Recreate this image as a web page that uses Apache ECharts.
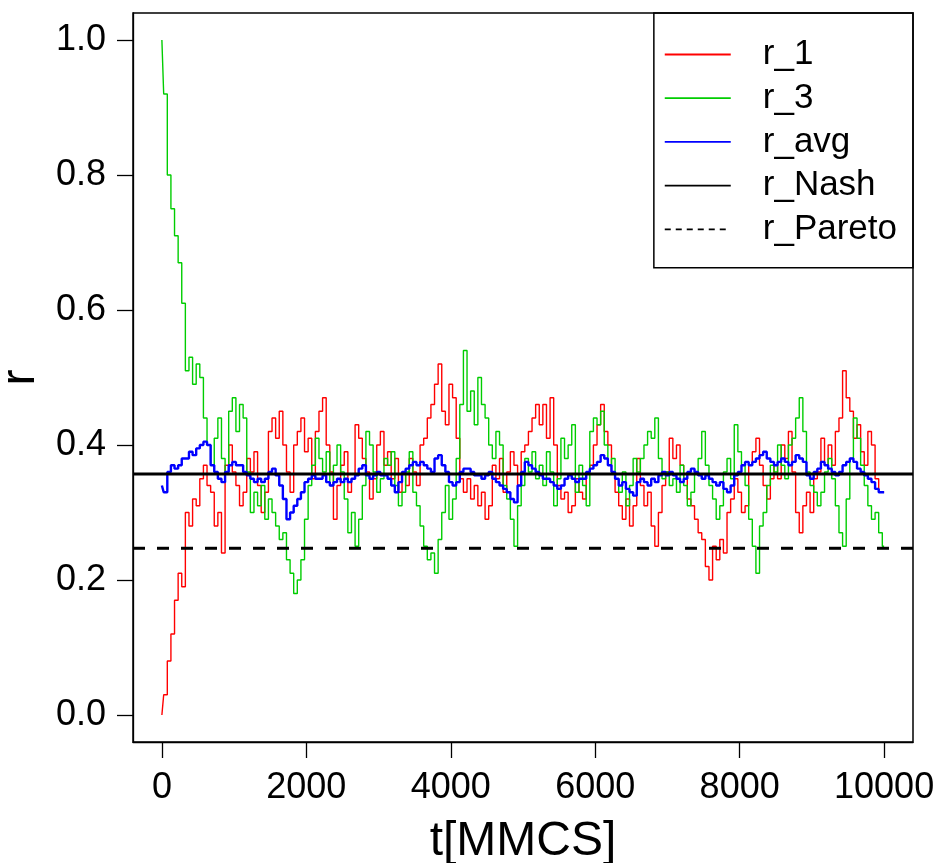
<!DOCTYPE html>
<html>
<head>
<meta charset="utf-8">
<script src="https://cdn.jsdelivr.net/npm/echarts@6/dist/echarts.min.js"></script>
<style>
html,body{margin:0;padding:0;background:#fff;}
#chart{width:938px;height:863px;}
</style>
</head>
<body>
<div id="chart"></div>
<script>
// sampling interval of the readings (MMCS)
const T_STEP = 50;

const r1 = [
0.00,0.03,0.08,0.12,0.17,0.21,0.19,0.30,0.28,0.32,0.31,0.35,0.37,0.34,0.33,0.28,0.30,0.24,0.37,0.40,
0.36,0.34,0.31,0.33,0.38,0.36,0.39,0.34,0.30,0.33,0.42,0.44,0.41,0.45,0.40,0.36,0.33,0.40,0.42,0.44,
0.39,0.41,0.35,0.42,0.45,0.47,0.40,0.36,0.29,0.34,0.37,0.39,0.33,0.35,0.43,0.41,0.38,0.36,0.32,0.35,
0.40,0.42,0.37,0.39,0.35,0.38,0.33,0.36,0.34,0.38,0.36,0.34,0.40,0.41,0.44,0.46,0.49,0.52,0.45,0.43,
0.49,0.47,0.41,0.35,0.33,0.35,0.32,0.34,0.31,0.33,0.29,0.31,0.37,0.35,0.38,0.33,0.36,0.39,0.37,0.34,
0.39,0.40,0.42,0.44,0.46,0.43,0.46,0.41,0.47,0.40,0.34,0.32,0.33,0.30,0.31,0.35,0.33,0.32,0.36,0.37,
0.40,0.43,0.46,0.42,0.40,0.36,0.33,0.31,0.29,0.32,0.28,0.31,0.38,0.34,0.31,0.33,0.28,0.25,0.30,0.34,
0.36,0.41,0.38,0.40,0.37,0.35,0.32,0.31,0.29,0.27,0.26,0.22,0.20,0.25,0.23,0.26,0.24,0.30,0.32,0.35,
0.33,0.30,0.31,0.37,0.39,0.41,0.37,0.34,0.32,0.35,0.37,0.35,0.40,0.38,0.42,0.36,0.30,0.27,0.31,0.33,
0.30,0.35,0.36,0.41,0.37,0.40,0.37,0.42,0.44,0.51,0.47,0.45,0.41,0.43,0.39,0.37,0.42,0.40,0.35,0.33,
0.33
];

const r3 = [
1.00,0.92,0.80,0.75,0.71,0.67,0.61,0.51,0.53,0.49,0.52,0.50,0.44,0.40,0.37,0.41,0.44,0.38,0.36,0.45,
0.47,0.42,0.46,0.44,0.36,0.30,0.33,0.31,0.34,0.29,0.32,0.30,0.28,0.26,0.27,0.23,0.21,0.18,0.20,0.23,
0.29,0.34,0.37,0.41,0.38,0.36,0.39,0.34,0.37,0.40,0.36,0.32,0.27,0.30,0.25,0.29,0.34,0.42,0.40,0.36,
0.33,0.35,0.38,0.37,0.39,0.34,0.31,0.33,0.36,0.39,0.33,0.31,0.28,0.25,0.23,0.24,0.21,0.26,0.30,0.34,
0.29,0.32,0.38,0.46,0.54,0.45,0.48,0.43,0.50,0.46,0.44,0.40,0.38,0.42,0.40,0.34,0.32,0.29,0.25,0.31,
0.34,0.38,0.36,0.39,0.35,0.37,0.34,0.39,0.36,0.31,0.35,0.41,0.38,0.40,0.43,0.33,0.37,0.34,0.31,0.42,
0.44,0.43,0.45,0.40,0.37,0.38,0.35,0.33,0.36,0.31,0.34,0.38,0.36,0.38,0.40,0.42,0.41,0.44,0.38,0.35,
0.36,0.34,0.35,0.33,0.37,0.34,0.31,0.33,0.36,0.38,0.42,0.37,0.34,0.32,0.29,0.31,0.36,0.38,0.35,0.43,
0.39,0.37,0.34,0.29,0.25,0.21,0.28,0.30,0.34,0.37,0.36,0.40,0.37,0.35,0.40,0.41,0.44,0.47,0.42,0.36,
0.34,0.33,0.31,0.33,0.36,0.38,0.35,0.31,0.27,0.25,0.32,0.38,0.44,0.41,0.37,0.34,0.31,0.29,0.30,0.27,
0.25
];

const rAvg = [
0.34,0.33,0.36,0.37,0.365,0.37,0.38,0.38,0.39,0.385,0.395,0.40,0.405,0.40,0.37,0.36,0.35,0.345,0.36,0.37,
0.375,0.37,0.37,0.36,0.355,0.35,0.345,0.35,0.345,0.35,0.36,0.365,0.355,0.34,0.32,0.29,0.30,0.31,0.32,0.33,
0.345,0.35,0.355,0.35,0.35,0.355,0.345,0.34,0.345,0.35,0.345,0.35,0.345,0.35,0.355,0.365,0.37,0.355,0.35,0.355,
0.36,0.355,0.355,0.35,0.34,0.33,0.345,0.36,0.365,0.37,0.375,0.37,0.375,0.37,0.365,0.36,0.38,0.385,0.37,0.36,
0.345,0.34,0.345,0.36,0.365,0.365,0.36,0.355,0.355,0.35,0.355,0.36,0.35,0.345,0.34,0.335,0.33,0.32,0.315,0.34,
0.36,0.375,0.37,0.365,0.36,0.355,0.35,0.35,0.345,0.34,0.335,0.34,0.35,0.355,0.35,0.345,0.35,0.35,0.36,0.365,
0.37,0.375,0.385,0.38,0.37,0.36,0.35,0.34,0.345,0.335,0.33,0.325,0.345,0.35,0.345,0.34,0.35,0.345,0.355,0.36,
0.355,0.36,0.355,0.35,0.345,0.35,0.36,0.365,0.36,0.355,0.35,0.355,0.35,0.345,0.34,0.345,0.335,0.33,0.34,0.355,
0.36,0.37,0.375,0.37,0.375,0.38,0.385,0.39,0.38,0.375,0.37,0.375,0.38,0.375,0.37,0.375,0.385,0.38,0.375,0.355,
0.35,0.36,0.365,0.375,0.37,0.365,0.36,0.355,0.36,0.37,0.375,0.38,0.375,0.365,0.36,0.355,0.35,0.345,0.335,0.33,
0.33
];

const rNash = 0.357;
const rPareto = 0.247;

const xTicks = [0, 2000, 4000, 6000, 8000, 10000];
const yTicks = [0, 0.2, 0.4, 0.6, 0.8, 1.0];
const seriesNames = ['r_1', 'r_3', 'r_avg', 'r_Nash', 'r_Pareto'];

const X_MIN = -400, X_MAX = 10400, Y_MIN = -0.04, Y_MAX = 1.04;
const FONT = '"Liberation Sans", Arial, sans-serif';

function toPairs(arr) { return arr.map((v, i) => [i * T_STEP, v]); }

const chart = echarts.init(document.getElementById('chart'), null, {renderer: 'canvas'});
const axisCommon = {
  axisLine: {show: true, onZero: false, lineStyle: {color: '#000', width: 1.3}},
  splitLine: {show: false},
};
chart.setOption({
  animation: false,
  backgroundColor: '#fff',
  textStyle: {fontFamily: FONT},
  grid: {left: 133, right: 25, top: 13, bottom: 121, show: true, borderColor: '#000', borderWidth: 1.5,
         containLabel: false, outerBoundsMode: 'none'},
  xAxis: Object.assign({
    type: 'value', min: X_MIN, max: X_MAX,
    name: 't[MMCS]', nameLocation: 'middle', nameGap: 76,
    nameTextStyle: {fontSize: 48, color: '#000', fontFamily: FONT},
    axisTick: {show: true, length: 16, customValues: xTicks, lineStyle: {color: '#000', width: 1.3}},
    axisLabel: {customValues: xTicks, fontSize: 36, color: '#000', margin: 28, fontFamily: FONT,
      formatter: v => String(v)}
  }, axisCommon),
  yAxis: Object.assign({
    type: 'value', min: Y_MIN, max: Y_MAX,
    name: 'r', nameLocation: 'middle', nameGap: 80,
    nameTextStyle: {fontSize: 48, color: '#000', fontFamily: FONT},
    axisTick: {show: true, length: 16, customValues: yTicks, lineStyle: {color: '#000', width: 1.3}},
    axisLabel: {customValues: yTicks, fontSize: 36, color: '#000', margin: 27, fontFamily: FONT,
      formatter: v => v.toFixed(1)}
  }, axisCommon),
  legend: {
    orient: 'vertical', right: 25, top: 13,
    itemWidth: 66, itemHeight: 35, itemGap: 8.7,
    padding: [24, 16, 21, 10],
    borderColor: '#000', borderWidth: 1.5,
    lineStyle: {width: 1.8},
    itemStyle: {opacity: 0, borderWidth: 0},
    textStyle: {fontSize: 35, color: '#000', fontFamily: FONT, padding: [0, 0, 0, 27]},
    data: [
      {name: seriesNames[0]},
      {name: seriesNames[1]},
      {name: seriesNames[2]},
      {name: seriesNames[3]},
      {name: seriesNames[4], lineStyle: {type: [6, 5], width: 1.8}}
    ]
  },
  series: [
    {name: seriesNames[0], type: 'line', data: toPairs(r1), symbol: 'none', step: 'middle',
     lineStyle: {color: '#FF0000', width: 1.4}, itemStyle: {color: '#FF0000'}},
    {name: seriesNames[1], type: 'line', data: toPairs(r3), symbol: 'none', step: 'middle',
     lineStyle: {color: '#00CD00', width: 1.4}, itemStyle: {color: '#00CD00'}},
    {name: seriesNames[2], type: 'line', data: toPairs(rAvg), symbol: 'none', step: 'middle',
     lineStyle: {color: '#0000FF', width: 2.4}, itemStyle: {color: '#0000FF'}},
    {name: seriesNames[3], type: 'line', data: [[X_MIN, rNash], [X_MAX, rNash]], symbol: 'none',
     lineStyle: {color: '#000', width: 3}, itemStyle: {color: '#000'}},
    {name: seriesNames[4], type: 'line', data: [[X_MIN, rPareto], [X_MAX, rPareto]], symbol: 'none',
     lineStyle: {color: '#000', width: 3, type: [12, 12]}, itemStyle: {color: '#000'}}
  ]
});
</script>
</body>
</html>
